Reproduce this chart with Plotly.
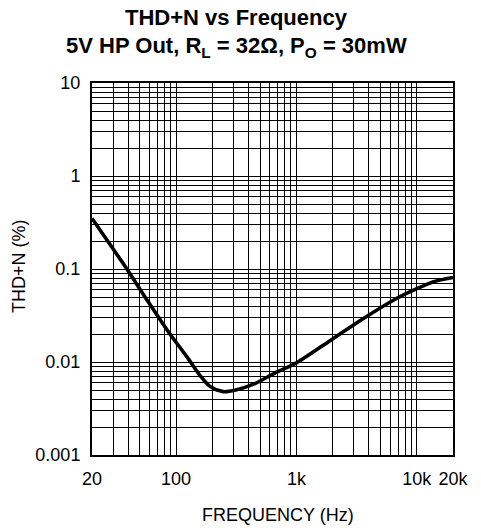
import plotly.graph_objects as go

# Data
freq_hz = [20, 30, 39, 59, 85, 124, 159, 190, 246, 313, 456, 660, 1000, 2000, 3550, 6560, 9900, 13800, 20000]
thd_pct = [0.35, 0.164, 0.1, 0.0438, 0.0217, 0.0112, 0.0071, 0.0055, 0.0048, 0.0050, 0.0059, 0.0076,
           0.0098, 0.0177, 0.029, 0.047, 0.061, 0.073, 0.081]

x_grid = [20, 30, 40, 50, 60, 70, 80, 90, 100, 200, 300, 400, 500, 600, 700, 800, 900,
          1000, 2000, 3000, 4000, 5000, 6000, 7000, 8000, 9000, 10000, 20000]
x_labels = {20: "20", 100: "100", 1000: "1k", 10000: "10k", 20000: "20k"}
y_grid = [m * 10 ** e for e in (-3, -2, -1, 0) for m in range(1, 10)] + [10]
y_labels = {0.001: "0.001", 0.01: "0.01", 0.1: "0.1", 1: "1", 10: "10"}

title_line1 = "THD+N vs Frequency"
title_line2 = "5V HP Out, R<sub>L</sub> = 32Ω, P<sub>O</sub> = 30mW"
x_title = "FREQUENCY (Hz)"
y_title = "THD+N (%)"

def lab(v, d):
    for k, t in d.items():
        if abs(v - k) < 1e-9 * max(1, k):
            return t
    return ""

fig = go.Figure()
fig.add_trace(go.Scatter(x=freq_hz, y=thd_pct, mode="lines",
                         line=dict(color="black", width=3.6, shape="spline", smoothing=0.8),
                         showlegend=False, hoverinfo="skip"))

font = "Liberation Sans, Arial, sans-serif"
fig.update_layout(
    width=481, height=531,
    margin=dict(l=92, r=18, t=83, b=76),
    paper_bgcolor="white", plot_bgcolor="white",
    font=dict(family=font, size=18, color="black"),
)
fig.add_annotation(text="<b>" + title_line1 + "</b>", xref="paper", yref="paper",
                   x=0.40, y=1.175, xanchor="center", yanchor="middle", showarrow=False,
                   font=dict(family=font, size=22, color="black"))
fig.add_annotation(text="<b>" + title_line2 + "</b>", xref="paper", yref="paper",
                   x=0.40, y=1.096, xanchor="center", yanchor="middle", showarrow=False,
                   font=dict(family=font, size=22, color="black"))
fig.add_annotation(text=x_title, xref="paper", yref="paper",
                   x=0.515, y=-0.161, xanchor="center", yanchor="middle", showarrow=False,
                   font=dict(family=font, size=18, color="black"))
fig.add_annotation(text=y_title, xref="paper", yref="paper", textangle=-90,
                   x=-0.202, y=0.508, xanchor="center", yanchor="middle", showarrow=False,
                   font=dict(family=font, size=18, color="black"))

fig.update_xaxes(type="log", range=[1.30103, 4.30103],
                 tickvals=x_grid, ticktext=[lab(v, x_labels) for v in x_grid],
                 showgrid=True, gridcolor="black", gridwidth=1.3,
                 showline=True, linecolor="black", linewidth=2, mirror=True,
                 ticks="", zeroline=False, ticklabelstandoff=6,
                 tickfont=dict(size=18))
fig.update_yaxes(type="log", range=[-3, 1],
                 tickvals=y_grid, ticktext=[lab(v, y_labels) for v in y_grid],
                 showgrid=True, gridcolor="black", gridwidth=1.3,
                 showline=True, linecolor="black", linewidth=2, mirror=True,
                 ticks="", zeroline=False, ticklabelstandoff=6,
                 tickfont=dict(size=18))

fig.write_html("out.html")
